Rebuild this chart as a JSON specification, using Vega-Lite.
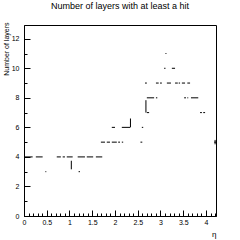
{
  "$schema": "https://vega.github.io/schema/vega-lite/v6.json",
  "width": 192,
  "height": 191,
  "autosize": "none",
  "padding": {"left": 24, "top": 25, "right": 24, "bottom": 24},
  "background": "white",
  "title": {"text": "Number of layers with at least a hit", "font": "Liberation Sans", "fontSize": 9, "fontWeight": "normal", "color": "black", "anchor": "middle", "offset": 11},
  "config": {"view": {"stroke": "black", "strokeWidth": 1}},
  "data": {"values": [
      {"x1": 0.0, "x2": 0.19, "y1": 4, "y2": 4}, {"x1": 0.26, "x2": 0.41, "y1": 4, "y2": 4}, {"x1": 0.72, "x2": 0.81, "y1": 4, "y2": 4}, {"x1": 0.85, "x2": 0.90, "y1": 4, "y2": 4}, {"x1": 0.94, "x2": 1.07, "y1": 4, "y2": 4}, {"x1": 1.18, "x2": 1.34, "y1": 4, "y2": 4}, {"x1": 1.38, "x2": 1.52, "y1": 4, "y2": 4}, {"x1": 1.58, "x2": 1.72, "y1": 4, "y2": 4},
      {"x1": 0.47, "x2": 0.49, "y1": 3, "y2": 3}, {"x1": 1.20, "x2": 1.23, "y1": 3, "y2": 3},
      {"x1": 1.69, "x2": 1.78, "y1": 5, "y2": 5}, {"x1": 1.82, "x2": 1.89, "y1": 5, "y2": 5}, {"x1": 1.93, "x2": 2.04, "y1": 5, "y2": 5}, {"x1": 2.07, "x2": 2.11, "y1": 5, "y2": 5}, {"x1": 2.15, "x2": 2.18, "y1": 5, "y2": 5}, {"x1": 2.56, "x2": 2.60, "y1": 5, "y2": 5}, {"x1": 4.18, "x2": 4.22, "y1": 5, "y2": 5},
      {"x1": 1.93, "x2": 2.00, "y1": 6, "y2": 6}, {"x1": 2.15, "x2": 2.33, "y1": 6, "y2": 6}, {"x1": 2.59, "x2": 2.62, "y1": 6, "y2": 6},
      {"x1": 2.70, "x2": 2.75, "y1": 7, "y2": 7}, {"x1": 3.87, "x2": 3.91, "y1": 7, "y2": 7}, {"x1": 3.94, "x2": 3.98, "y1": 7, "y2": 7},
      {"x1": 2.70, "x2": 2.86, "y1": 8, "y2": 8}, {"x1": 2.90, "x2": 2.93, "y1": 8, "y2": 8}, {"x1": 3.52, "x2": 3.56, "y1": 8, "y2": 8}, {"x1": 3.59, "x2": 3.61, "y1": 8, "y2": 8}, {"x1": 3.67, "x2": 3.83, "y1": 8, "y2": 8},
      {"x1": 2.66, "x2": 2.70, "y1": 9, "y2": 9}, {"x1": 2.90, "x2": 2.96, "y1": 9, "y2": 9}, {"x1": 2.99, "x2": 3.03, "y1": 9, "y2": 9}, {"x1": 3.14, "x2": 3.23, "y1": 9, "y2": 9}, {"x1": 3.32, "x2": 3.38, "y1": 9, "y2": 9}, {"x1": 3.40, "x2": 3.43, "y1": 9, "y2": 9}, {"x1": 3.47, "x2": 3.54, "y1": 9, "y2": 9}, {"x1": 3.59, "x2": 3.65, "y1": 9, "y2": 9},
      {"x1": 3.08, "x2": 3.11, "y1": 10, "y2": 10}, {"x1": 3.25, "x2": 3.32, "y1": 10, "y2": 10},
      {"x1": 3.11, "x2": 3.13, "y1": 11, "y2": 11},
      {"x1": 1.04, "x2": 1.04, "y1": 3.16, "y2": 3.74},
      {"x1": 2.34, "x2": 2.34, "y1": 6.0, "y2": 6.6},
      {"x1": 2.68, "x2": 2.68, "y1": 7.0, "y2": 7.84},
      {"x1": 4.2, "x2": 4.2, "y1": 4.85, "y2": 5.15}
  ]},
  "mark": {"type": "rule", "color": "black", "strokeWidth": 1},
  "encoding": {
    "x": {"field": "x1", "type": "quantitative", "scale": {"domain": [0, 4.22], "nice": false, "zero": false},
      "axis": {"values": [0,0.1,0.2,0.3,0.4,0.5,0.6,0.7,0.8,0.9,1,1.1,1.2,1.3,1.4,1.5,1.6,1.7,1.8,1.9,2,2.1,2.2,2.3,2.4,2.5,2.6,2.7,2.8,2.9,3,3.1,3.2,3.3,3.4,3.5,3.6,3.7,3.8,3.9,4,4.1,4.2],
        "format": "~g",
        "labelExpr": "indexof(['0','0.5','1','1.5','2','2.5','3','3.5','4'], datum.label) >= 0 ? datum.label : ''",
        "tickSize": {"condition": {"test": "indexof(['0','0.5','1','1.5','2','2.5','3','3.5','4'], datum.label) >= 0", "value": -6}, "value": -3},
        "tickColor": "black", "domainColor": "black", "grid": false,
        "labelFont": "Liberation Sans", "labelFontSize": 7, "labelColor": "black", "labelPadding": 8, "labelFlush": false, "labelOverlap": false, "labelBound": false,
        "title": "η", "titleFont": "Liberation Sans", "titleFontSize": 8, "titleFontWeight": "normal", "titleColor": "black", "titleAnchor": "end", "titlePadding": 2}},
    "x2": {"field": "x2"},
    "y": {"field": "y1", "type": "quantitative", "scale": {"domain": [0, 12.93], "nice": false},
      "axis": {"values": [0,1,2,3,4,5,6,7,8,9,10,11,12],
        "labelExpr": "datum.value % 2 == 0 ? datum.label : ''",
        "tickSize": {"condition": {"test": "datum.value % 2 == 0", "value": -6}, "value": -3},
        "tickColor": "black", "domainColor": "black", "grid": false, "labelOverlap": false, "labelBound": false,
        "labelFont": "Liberation Sans", "labelFontSize": 7, "labelColor": "black", "labelPadding": 11,
        "title": "Number of layers", "titleFont": "Liberation Sans", "titleFontSize": 7, "titleFontWeight": "normal", "titleColor": "black",
        "titleAngle": 270, "titleAlign": "right", "titleBaseline": "middle", "titleX": -18, "titleY": -3}},
    "y2": {"field": "y2"}
  }
}
